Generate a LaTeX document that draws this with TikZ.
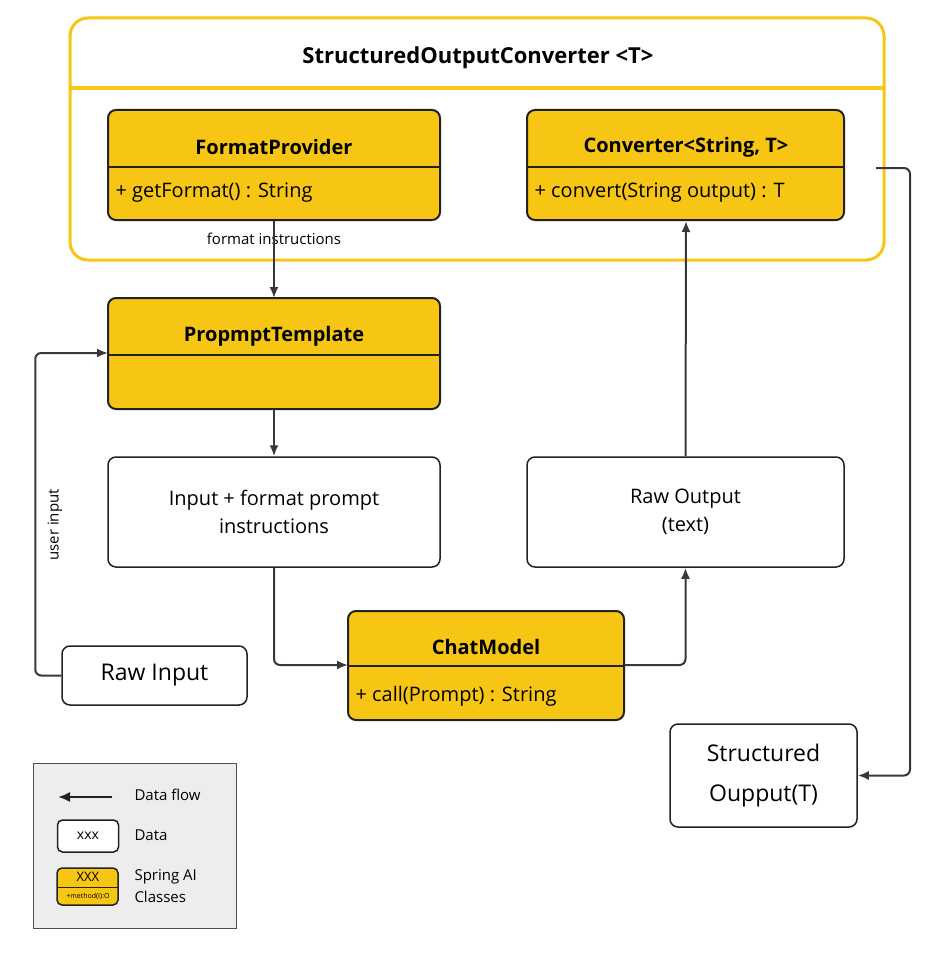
\documentclass[tikz,border=0pt]{standalone}
\usepackage{fontspec}
\setmainfont{Open Sans}
\usetikzlibrary{arrows.meta}
\definecolor{ylw}{HTML}{F7C614}
\definecolor{dk}{HTML}{222222}
\begin{document}
\begin{tikzpicture}[x=1pt,y=-1pt,
  cls/.style={draw=dk,line width=2pt,fill=ylw,rounded corners=8pt},
  dat/.style={draw=dk,line width=1.5pt,fill=white,rounded corners=8pt},
  sep/.style={draw=dk,line width=1.5pt},
  flow/.style={draw=dk!90,line width=2pt,rounded corners=6pt,-{Latex[length=11pt,width=9pt]}},
  ttl/.style={font=\fontsize{20}{24}\selectfont\bfseries},
  mth/.style={font=\fontsize{20}{24}\selectfont,anchor=west},
  txt/.style={font=\fontsize{20}{28}\selectfont,align=center}]
\useasboundingbox[fill=white] (0,0) rectangle (939,963);
% container
\draw[ylw,line width=3pt,rounded corners=18pt] (70,18) rectangle (884,260);
\draw[ylw,line width=4pt] (71,88) -- (883,88);
\node[font=\fontsize{22}{26}\selectfont\bfseries] (title) at (478,58) {StructuredOutputConverter <T>};
% FormatProvider
\draw[cls] (108,110) rectangle (440,220);
\draw[sep] (108,167) -- (440,167);
\node[ttl] (fp) at (274,147) {FormatProvider};
\node[mth] (fpm) at (112,193) {+ getFormat() : String};
\coordinate (fpb) at (274,221);
% Converter
\draw[cls] (527,110) rectangle (844,220);
\draw[sep] (527,167) -- (844,167);
\node[ttl] (cv) at (686,147) {Converter<String, T>};
\node[mth] (cvm) at (531,193) {+ convert(String output) : T};
\coordinate (cvb) at (686,221);
\coordinate (cvr) at (876,168);
\node[font=\fontsize{15}{18}\selectfont,fill=white,inner sep=1pt] (fi) at (274,239) {format instructions};
% PromptTemplate
\draw[cls] (108,298) rectangle (440,409);
\draw[sep] (108,355) -- (440,355);
\node[ttl] (pt) at (274,336) {PropmptTemplate};
\coordinate (ptt) at (274,298);
\coordinate (ptb) at (274,409);
\coordinate (ptl) at (108,353);
% Input
\node[dat,minimum width=332pt,minimum height=110pt,txt] (inp) at (274,512) {Input + format prompt\\instructions};
\node[dat,minimum width=317pt,minimum height=110pt,txt] (raw) at (685.5,512) {Raw Output\\(text)};
% ChatModel
\draw[cls] (348,611) rectangle (624,720);
\draw[sep] (348,666) -- (624,666);
\node[ttl] (cm) at (486,647) {ChatModel};
\node[mth] (cmm) at (352,696) {+ call(Prompt) : String};
\coordinate (cml) at (348,665);
\coordinate (cmr) at (624,665);
% Raw input, structured
\node[dat,minimum width=185pt,minimum height=59pt,font=\fontsize{23}{28}\selectfont] (ri) at (154.5,675.5) {Raw Input};
\node[dat,minimum width=187pt,minimum height=103pt,txt,font=\fontsize{23}{40}\selectfont] (so) at (763.5,775.5) {Structured\\Oupput(T)};
% connectors
\draw[flow] (fpb) -- (ptt);
\draw[flow] (ptb) -- (inp.north);
\draw[flow] (inp.south) |- (cml);
\draw[flow] (cmr) -| (raw.south);
\draw[flow] (raw.north) -- (cvb);
\draw[flow] (ri.west) -- ++(-26,0) |- (ptl);
\draw[flow] (cvr) -- (910,168) |- (so.east);
\node[font=\fontsize{15}{18}\selectfont,rotate=90] (ui) at (55,525) {user input};
% legend
\draw[draw=dk!80,fill=black!7,line width=1pt] (33,763) rectangle (236,928);
\coordinate (la) at (112,797); \coordinate (lb) at (58,797);
\draw[draw=dk,line width=2pt,-{Latex[length=12pt,width=10pt]}] (la) -- (lb);
\node[font=\fontsize{15}{18}\selectfont,anchor=west] (l1) at (131,795) {Data flow};
\node[dat,line width=1.5pt,minimum width=61pt,minimum height=32pt,font=\fontsize{14}{16}\selectfont,rounded corners=5pt] (l2) at (88,836) {xxx};
\node[font=\fontsize{15}{18}\selectfont,anchor=west] (l2t) at (131,835) {Data};
\draw[cls,line width=1.5pt,rounded corners=5pt] (57,868) rectangle (118,905);
\draw[sep,line width=1pt] (57,887) -- (118,887);
\node[font=\fontsize{13}{14}\selectfont] (l3) at (88,877) {XXX};
\node[font=\fontsize{7}{8}\selectfont] (l3m) at (88,896) {+method(I):O};
\node[font=\fontsize{15}{22}\selectfont,align=left,anchor=west] (l3t) at (131,886) {Spring AI\\Classes};
\end{tikzpicture}
\end{document}
